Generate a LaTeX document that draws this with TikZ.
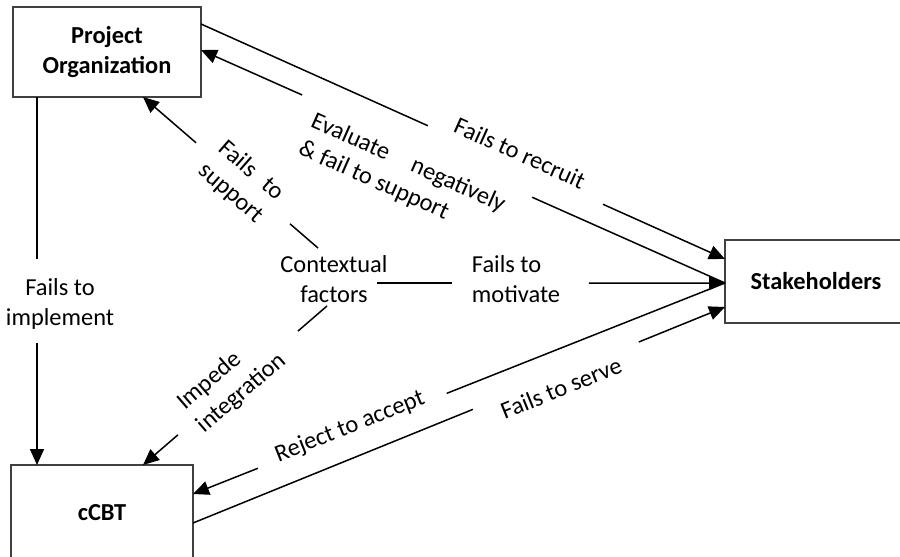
\documentclass[tikz,border=0pt]{standalone}
\usepackage{fontspec}
\setmainfont{Carlito}
\usetikzlibrary{arrows.meta,calc}
\begin{document}
\begin{tikzpicture}[x=0.5pt,y=-0.5pt,
  every node/.style={font=\fontsize{12.2}{15}\selectfont},
  box/.style={draw=black!75,line width=0.9pt,fill=white,inner sep=0pt,
    font=\fontsize{12.2}{15}\selectfont\bfseries,align=center},
  conn/.style={line width=0.75pt,black},
  arr/.style={conn,-{Triangle[length=8pt,width=7pt]}},
  lbl/.style={inner sep=0pt,text=black}]
\useasboundingbox (0,0) rectangle (900,557);
\clip (0,0) rectangle (900,557);
% boxes
\node[box,minimum width=94pt,minimum height=45pt] (po) at (107,52) {Project\\Organization};
\node[box,minimum width=91pt,minimum height=47.5pt] (cb) at (102,512.5) {cCBT};
\node[box,minimum width=91pt,minimum height=41.5pt] (st) at (816,281.5) {Stakeholders};
\node[lbl,align=center] (cf) at (334,279) {Contextual\\factors};
% connector end points
\coordinate (poR1) at (201,24);
\coordinate (poR2) at (201,50);
\coordinate (poB1) at (37,97);
\coordinate (poB2) at (143,97);
\coordinate (cbT1) at (37,465);
\coordinate (cbT2) at (143,465);
\coordinate (cbR1) at (193,494);
\coordinate (cbR2) at (193,523);
\coordinate (stL1) at (725,259);
\coordinate (stL2) at (725,283);
\coordinate (stL3) at (725,307);
\coordinate (cfA) at (318,248);
\coordinate (cfB) at (377,283);
\coordinate (cfC) at (327,306);
% Fails to implement
\draw[conn] (poB1) -- ($(poB1)!0.440!(cbT1)$);
\draw[arr] ($(poB1)!0.668!(cbT1)$) -- (cbT1);
\node[lbl,align=center] (limp) at (60,303.5) {Fails to\\implement};
% Fails to support
\draw[conn] (cfA) -- ($(cfA)!0.16!(poB2)$);
\draw[arr] ($(cfA)!0.697!(poB2)$) -- (poB2);
\node[lbl,align=center,rotate=-41] (lsup) at (241,182) {Fails\hspace{4pt} to\\support};
% Fails to recruit
\draw[conn] (poR1) -- ($(poR1)!0.433!(stL1)$);
\draw[arr] ($(poR1)!0.767!(stL1)$) -- (stL1);
\node[lbl,rotate=-24.15] (lrec) at (520,153) {Fails to recruit};
% Evaluate negatively
\draw[conn] (stL2) -- ($(stL2)!0.368!(poR2)$);
\draw[arr] ($(stL2)!0.807!(poR2)$) -- (poR2);
\node[lbl,align=left,rotate=-24] (leva) at (402,177) {Evaluate\hspace{10pt} negatively\\\& fail to support};
% Fails to motivate
\draw[conn] (cfB) -- ($(cfB)!0.216!(stL2)$);
\draw[arr] ($(cfB)!0.609!(stL2)$) -- (stL2);
\node[lbl,align=left] (lmot) at (516,279) {Fails to\\motivate};
% Impede integration
\draw[conn] (cfC) -- ($(cfC)!0.158!(cbT2)$);
\draw[arr] ($(cfC)!0.81!(cbT2)$) -- (cbT2);
\node[lbl,align=left,rotate=40.8] (limp2) at (232,382) {Impede\\integration};
% Reject to accept
\draw[conn] (stL2) -- ($(stL2)!0.523!(cbR1)$);
\draw[arr] ($(stL2)!0.878!(cbR1)$) -- (cbR1);
\node[lbl,rotate=21.6] (lrej) at (350,427) {Reject to accept};
% Fails to serve
\draw[conn] (cbR2) -- ($(cbR2)!0.526!(stL3)$);
\draw[arr] ($(cbR2)!0.838!(stL3)$) -- (stL3);
\node[lbl,rotate=22.1] (lser) at (561,388) {Fails to serve};
\end{tikzpicture}
\end{document}
